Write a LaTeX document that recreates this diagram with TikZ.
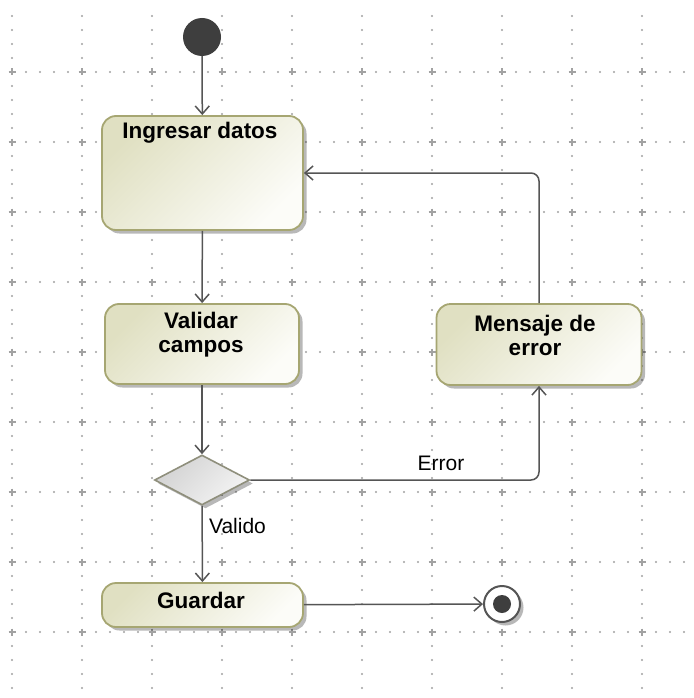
\documentclass[tikz,border=0pt]{standalone}
\usepackage{fontspec}
\setmainfont{Liberation Sans}
\usetikzlibrary{arrows.meta,shapes.geometric,shadows}

\definecolor{gridc}{HTML}{A2A2A2}
\definecolor{edgec}{HTML}{555555}
\definecolor{actborder}{HTML}{A6A672}
\definecolor{actdark}{HTML}{E0E0C2}
\definecolor{actlight}{HTML}{FCFCF8}
\definecolor{decborder}{HTML}{8F8F7C}
\definecolor{decdark}{HTML}{D2D2D2}
\definecolor{declight}{HTML}{F4F4F4}
\definecolor{startc}{HTML}{3E3E3E}

\tikzset{
  softshadow/.style={drop shadow={shadow xshift=3.5pt, shadow yshift=-3.5pt, fill=black, opacity=0.28}},
  action/.style={rectangle, rounded corners=14pt, draw=actborder, line width=1.8pt,
    top color=actdark, bottom color=actlight, shading angle=45,
    softshadow, inner sep=0pt},
  decision/.style={diamond, draw=decborder, line width=1.6pt,
    top color=decdark, bottom color=declight, shading angle=45,
    softshadow, inner sep=0pt, minimum width=95pt, minimum height=50pt},
  startnode/.style={circle, fill=startc, minimum size=38pt, inner sep=0pt},
  endring/.style={circle, draw=edgec, line width=2pt, fill=white, minimum size=36pt, inner sep=0pt, softshadow},
  enddot/.style={circle, fill=startc, minimum size=18pt, inner sep=0pt},
  title/.style={font=\fontsize{22.5}{24}\selectfont\bfseries, align=center, inner sep=0pt, text=black},
  guard/.style={font=\fontsize{21}{24}\selectfont, inner sep=0pt, text=black},
  flow/.style={draw=edgec, line width=1.5pt, rounded corners=8pt,
    -{Straight Barb[length=8pt,width=14pt]}}
}

\begin{document}
\begin{tikzpicture}[x=1pt,y=-1pt]
\useasboundingbox[fill=white] (0,0) rectangle (693,698);

% dotted drawing grid: major columns and rows every 70, dots every 14
\foreach \i in {0,...,9}
  \foreach \j in {1,...,49}
    \fill[gridc] ({12+70*\i},{2+14*\j}) circle (1.1);
\foreach \j in {0,...,8}
  \foreach \i in {0,...,48}
    \fill[gridc] ({12+14*\i},{72+70*\j}) circle (1.1);
\foreach \i in {0,...,9}
  \foreach \j in {0,...,8}
    \draw[gridc, line width=1.3pt] ({12+70*\i-3.5},{72+70*\j}) -- ++(7,0)
                                   ({12+70*\i},{72+70*\j-3.5}) -- ++(0,7);

% nodes
\node[startnode] (start) at (202,37) {};
\node[action, minimum width=201pt, minimum height=114pt] (ingresar) at (202.5,173) {};
\node[action, minimum width=194pt, minimum height=80pt] (validar) at (202,344) {};
\node[action, minimum width=205pt, minimum height=81pt] (mensaje) at (539,344.5) {};
\node[decision] (decide) at (202,480) {};
\node[action, minimum width=201pt, minimum height=44pt] (guardar) at (202.5,605) {};
\node[endring] (final) at (502,604) {};
\node[enddot] (finaldot) at (final.center) {};

% node texts
\node[title] (tingresar) at (200,133) {Ingresar datos};
\node[title] (tvalidar) at (201,335) {Validar\\campos};
\node[title] (tmensaje) at (535,335) {Mensaje de\\error};
\node[title] (tguardar) at (201,600) {Guardar};

% control flow
\draw[flow] (start) -- (ingresar);
\draw[flow] (ingresar) -- (validar);
\draw[flow] (validar) -- (decide);
\draw[flow] (decide.east) -| (mensaje.south);
\draw[flow] (mensaje.north) |- (ingresar.east);
\draw[flow] (decide) -- (guardar);
\draw[flow] (guardar) -- (final);

% guards
\node[guard] (gerror) at (441,463) {Error};
\node[guard] (gvalido) at (237.5,526) {Valido};
\end{tikzpicture}
\end{document}
